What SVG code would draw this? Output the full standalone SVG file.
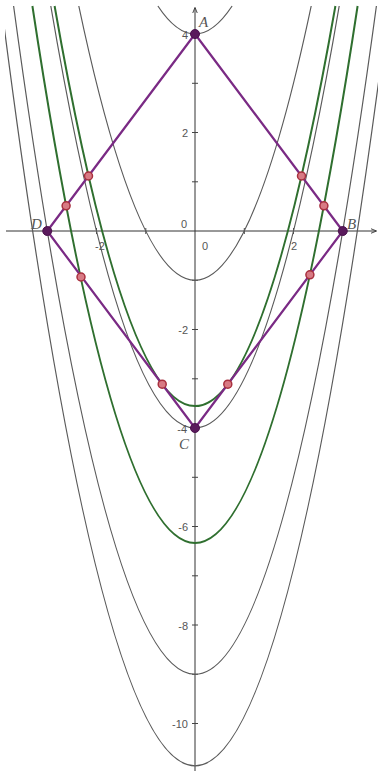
<svg xmlns="http://www.w3.org/2000/svg" width="378" height="771" viewBox="0 0 378 771">
<style>
.ax{stroke:#333;stroke-width:1;fill:none}
.tk{stroke:#444;stroke-width:1}
.gray{stroke:#5a5a5a;stroke-width:1.2;fill:none}
.green{stroke:#2f6f2f;stroke-width:2;fill:none}
.side{stroke:#7a2a84;stroke-width:2.2;fill:none;stroke-linejoin:round}
.vtx{fill:#5a1a5c;stroke:#4a104c;stroke-width:1}
.pt{fill:#d87a84;stroke:#a8303e;stroke-width:1.5}
.num{font-family:"Liberation Sans",Arial,sans-serif;font-size:11px;fill:#555}
.lab{font-family:"Liberation Serif","Times New Roman",serif;font-style:italic;font-size:15px;fill:#555}
</style>
<defs>
<clipPath id="clip"><rect x="5" y="5" width="373" height="766"/></clipPath>
<marker id="arr" viewBox="0 0 10 10" refX="9" refY="5" markerWidth="6" markerHeight="6" orient="auto"><path d="M0,1 L10,5 L0,9" fill="none" stroke="#333" stroke-width="1.5"/></marker>
</defs>
<rect width="378" height="771" fill="#fff"/>
<g id="axes">
<line class="ax" x1="6" y1="231" x2="376" y2="231" marker-end="url(#arr)"/>
<line class="ax" x1="195" y1="771" x2="195" y2="8" marker-end="url(#arr)"/>
<g class="tk">
<line x1="192" y1="83.3" x2="198" y2="83.3"/>
<line x1="192" y1="132.5" x2="198" y2="132.5"/>
<line x1="192" y1="181.8" x2="198" y2="181.8"/>
<line x1="192" y1="280.3" x2="198" y2="280.3"/>
<line x1="192" y1="329.5" x2="198" y2="329.5"/>
<line x1="192" y1="378.8" x2="198" y2="378.8"/>
<line x1="192" y1="477.3" x2="198" y2="477.3"/>
<line x1="192" y1="526.5" x2="198" y2="526.5"/>
<line x1="192" y1="575.8" x2="198" y2="575.8"/>
<line x1="192" y1="625" x2="198" y2="625"/>
<line x1="192" y1="674.3" x2="198" y2="674.3"/>
<line x1="192" y1="723.5" x2="198" y2="723.5"/>
<line x1="96.5" y1="228" x2="96.5" y2="234"/>
<line x1="145.8" y1="228" x2="145.8" y2="234"/>
<line x1="244.3" y1="228" x2="244.3" y2="234"/>
<line x1="293.5" y1="228" x2="293.5" y2="234"/>
</g>
</g>
<g id="parabolas" clip-path="url(#clip)">
<path class="gray" d="M157.9,6 Q195,62 232.1,6"/>
<path class="gray" d="M78.8,6 Q195,554.5 311.2,6"/>
<path class="gray" d="M50.8,6 Q195,850 339.2,6"/>
<path class="green" d="M54.6,6 Q195,806.2 335.4,6"/>
<path class="green" d="M32.4,6 Q195,1079.9 357.6,6"/>
<path class="gray" d="M13.6,6 Q195,1342.5 376.4,6"/>
<path class="gray" d="M1.5,6 Q195,1525.7 388.5,6"/>
</g>
<g id="rhombus">
<path class="side" d="M195,34 L342.75,231 L195,428 L47.25,231 Z"/>
</g>
<g id="points">
<circle class="pt" cx="88.5" cy="176" r="4"/>
<circle class="pt" cx="66.1" cy="205.8" r="4"/>
<circle class="pt" cx="81" cy="277" r="4"/>
<circle class="pt" cx="162.2" cy="384.2" r="4"/>
<circle class="pt" cx="227.8" cy="384.2" r="4"/>
<circle class="pt" cx="301.5" cy="176" r="4"/>
<circle class="pt" cx="323.9" cy="205.8" r="4"/>
<circle class="pt" cx="309.9" cy="274.8" r="4"/>
<circle id="A" class="vtx" cx="195" cy="34" r="4.5"/>
<circle id="B" class="vtx" cx="342.75" cy="231" r="4.5"/>
<circle id="C" class="vtx" cx="195" cy="428" r="4.5"/>
<circle id="D" class="vtx" cx="47.25" cy="231" r="4.5"/>
</g>
<g id="labels">
<text class="num" x="188" y="39" text-anchor="end">4</text>
<text class="num" x="188" y="137" text-anchor="end">2</text>
<text class="num" x="187" y="228" text-anchor="end">0</text>
<text class="num" x="188" y="334" text-anchor="end">-2</text>
<text class="num" x="187" y="433" text-anchor="end">-4</text>
<text class="num" x="188" y="531" text-anchor="end">-6</text>
<text class="num" x="188" y="630" text-anchor="end">-8</text>
<text class="num" x="188" y="728" text-anchor="end">-10</text>
<text class="num" x="100" y="250" text-anchor="middle">-2</text>
<text class="num" x="205" y="250" text-anchor="middle">0</text>
<text class="num" x="294" y="250" text-anchor="middle">2</text>
<text class="lab" x="199" y="27">A</text>
<text class="lab" x="347" y="229">B</text>
<text class="lab" x="179" y="449">C</text>
<text class="lab" x="31" y="229">D</text>
</g>
</svg>
